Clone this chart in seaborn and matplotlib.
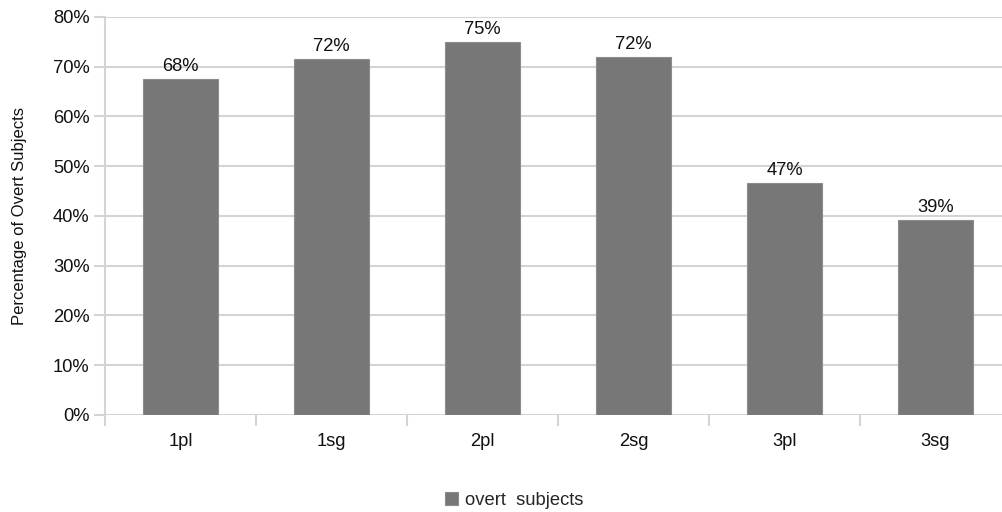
import numpy as np
import pandas as pd
import matplotlib
matplotlib.use("Agg")
import matplotlib.pyplot as plt
from matplotlib.ticker import PercentFormatter, FixedLocator
import seaborn as sns

# --- Data ---
persons = ["1pl", "1sg", "2pl", "2sg", "3pl", "3sg"]
overt_pct = [67.5, 71.5, 75.0, 72.0, 46.6, 39.1]
bar_labels = ["68%", "72%", "75%", "72%", "47%", "39%"]
y_ticks = [0, 10, 20, 30, 40, 50, 60, 70, 80]
series_name = "overt  subjects"

df = pd.DataFrame({"person": persons, "pct": overt_pct})

# --- Style ---
sns.set_style("white")
plt.rcParams["font.family"] = ["Liberation Sans", "DejaVu Sans"]
GRID = "#d4d4d4"
BAR = "#777777"
FS = 13.2

fig = plt.figure(figsize=(10.02, 5.12), dpi=100)
ax = fig.add_axes([0.1048, 0.1895, 0.8952, 0.7773])

sns.barplot(data=df, x="person", y="pct", color=BAR, width=0.5,
            edgecolor="#8c8c8c", linewidth=0.8, saturation=1, ax=ax,
            zorder=3, label=series_name)

# bar value labels
for bar, txt in zip(ax.patches, bar_labels):
    ax.annotate(txt, (bar.get_x() + bar.get_width() / 2, bar.get_height()),
                xytext=(0, 3), textcoords="offset points",
                ha="center", va="bottom", fontsize=FS, color="#111111")

# axes / grid
ax.set_ylim(0, 80)
ax.set_xlim(-0.5, 5.44)
ax.set_yticks(y_ticks)
ax.yaxis.set_major_formatter(PercentFormatter(xmax=100, decimals=0))
ax.grid(axis="y", color=GRID, linewidth=1.5, zorder=0)
ax.set_axisbelow(True)

for side in ["top", "right", "bottom"]:
    ax.spines[side].set_visible(False)
ax.spines["left"].set_color(GRID)
ax.spines["left"].set_linewidth(1.5)

ax.tick_params(axis="y", left=True, length=8, width=1.5, color=GRID,
               labelsize=FS, labelcolor="#111111", pad=3)
ax.tick_params(axis="x", which="major", bottom=True, length=0, labelsize=FS,
               labelcolor="#111111", pad=13)
ax.xaxis.set_minor_locator(FixedLocator(np.arange(-0.5, 6, 1)))
ax.tick_params(axis="x", which="minor", bottom=True, length=8, width=1.5,
               color=GRID)

ax.set_xlabel("")
ax.set_ylabel("Percentage of Overt Subjects", fontsize=12, labelpad=12,
              color="#111111")
ax.yaxis.set_label_coords(-0.087, 0.5)

# legend at bottom
handles, labels = ax.get_legend_handles_labels()
if ax.get_legend() is not None:
    ax.get_legend().remove()
fig.legend(handles, labels, loc="center", bbox_to_anchor=(0.513, 0.022),
           frameon=False, fontsize=FS, handlelength=0.7, handleheight=0.7,
           handletextpad=0.4)

fig.savefig("out.png", dpi=100)
